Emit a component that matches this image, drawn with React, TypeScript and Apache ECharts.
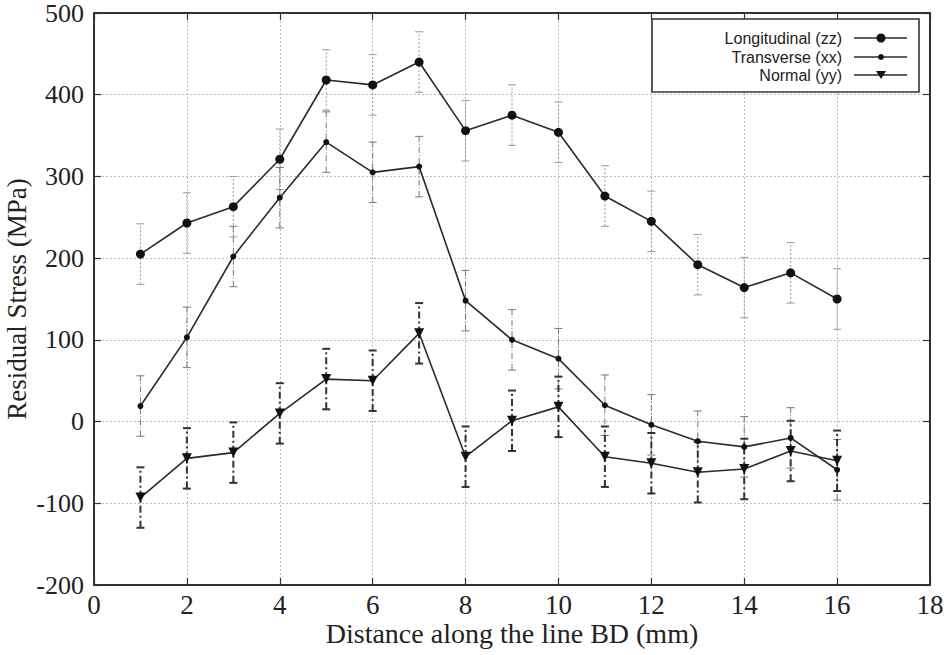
import React, { useEffect, useRef } from "react";
import * as echarts from "echarts";

const positions = [1, 2, 3, 4, 5, 6, 7, 8, 9, 10, 11, 12, 13, 14, 15, 16];
const longitudinal = [205, 243, 263, 321, 418, 412, 440, 356, 375, 354, 276, 245, 192, 164, 182, 150];
const transverse = [19, 103, 202, 274, 342, 305, 312, 148, 100, 77, 20, -4, -24, -31, -20, -59];
const normal = [-93, -45, -38, 10, 52, 50, 108, -43, 1, 18, -43, -51, -62, -58, -36, -48];
const longErr = [37, 37, 37, 37, 37, 37, 37, 37, 37, 37, 37, 37, 37, 37, 37, 37];
const transErr = [37, 37, 37, 37, 37, 37, 37, 37, 37, 37, 37, 37, 37, 37, 37, 37];
const normErr = [37, 37, 37, 37, 37, 37, 37, 37, 37, 37, 37, 37, 37, 37, 37, 37];
const legendNames = ["Longitudinal (zz)", "Transverse (xx)", "Normal (yy)"];

const SERIF = "'Liberation Serif', 'DejaVu Serif', serif";
const SANS = "'Liberation Sans', Arial, sans-serif";

function errSeries(vals: number[], errs: number[], color: string, width: number, dash: number[]) {
  return {
    type: "custom",
    z: 1,
    silent: true,
    data: positions.map((x, i) => [x, vals[i] - errs[i], vals[i] + errs[i]]),
    renderItem: (params: any, api: any) => {
      const x = api.value(0);
      const lo = api.coord([x, api.value(1)]);
      const hi = api.coord([x, api.value(2)]);
      const cw = 4;
      const style = { stroke: color, lineWidth: width, lineDash: dash, fill: null };
      const capStyle = { stroke: color, lineWidth: width, fill: null };
      return {
        type: "group",
        children: [
          { type: "line", shape: { x1: lo[0], y1: lo[1], x2: hi[0], y2: hi[1] }, style },
          { type: "line", shape: { x1: lo[0] - cw, y1: lo[1], x2: lo[0] + cw, y2: lo[1] }, style: capStyle },
          { type: "line", shape: { x1: hi[0] - cw, y1: hi[1], x2: hi[0] + cw, y2: hi[1] }, style: capStyle },
        ],
      };
    },
  };
}

function lineSeries(name: string, vals: number[], symbol: string, size: number, rotate = 0) {
  return {
    name,
    type: "line",
    z: 3,
    data: positions.map((x, i) => [x, vals[i]]),
    symbol,
    symbolSize: size,
    symbolRotate: rotate,
    showAllSymbol: true,
    lineStyle: { color: "#2a2a2a", width: 1.6 },
    itemStyle: { color: "#111" },
  };
}

export default function App() {
  const ref = useRef<HTMLDivElement>(null);
  useEffect(() => {
    if (!ref.current) return;
    const chart = echarts.init(ref.current, undefined, { renderer: "svg" });
    const axisLine = { show: true, onZero: false, lineStyle: { color: "#333", width: 2 } };
    const tick = { show: true, inside: true, length: 7, lineStyle: { color: "#333", width: 1.2 } };
    const split = { show: true, lineStyle: { color: "#bbb", type: [2, 2], width: 1 } };
    const legendY = [38, 57, 75];
    const legendGraphics: any[] = [
      {
        type: "rect",
        shape: { x: 652, y: 19, width: 267, height: 73 },
        style: { fill: "#fff", stroke: "#333", lineWidth: 1.6 },
        z: 10,
      },
    ];
    legendNames.forEach((n, i) => {
      legendGraphics.push({
        type: "text",
        x: 842,
        y: legendY[i],
        z: 11,
        style: { text: n, font: `16px ${SANS}`, fill: "#222", align: "right", verticalAlign: "middle" },
      });
      legendGraphics.push({
        type: "line",
        z: 11,
        shape: { x1: 854, y1: legendY[i], x2: 907, y2: legendY[i] },
        style: { stroke: "#2a2a2a", lineWidth: 1.6 },
      });
    });
    legendGraphics.push({ type: "circle", z: 12, shape: { cx: 881, cy: legendY[0], r: 4.5 }, style: { fill: "#111" } });
    legendGraphics.push({ type: "circle", z: 12, shape: { cx: 881, cy: legendY[1], r: 3 }, style: { fill: "#111" } });
    legendGraphics.push({
      type: "polygon",
      z: 12,
      shape: { points: [[876, legendY[2] - 4], [886, legendY[2] - 4], [881, legendY[2] + 4]] },
      style: { fill: "#111" },
    });

    chart.setOption({
      animation: false,
      backgroundColor: "#fff",
      grid: { left: 94, right: 14, top: 13, bottom: 70, containLabel: false, outerBoundsMode: "none" },
      xAxis: [
        {
          type: "value",
          min: 0,
          max: 18,
          interval: 2,
          name: "Distance along the line BD (mm)",
          nameLocation: "middle",
          nameGap: 34,
          nameMoveOverlap: false,
          nameTextStyle: { fontFamily: SERIF, fontSize: 28, color: "#222" },
          axisLine,
          axisTick: tick,
          splitLine: split,
          axisLabel: { fontFamily: SERIF, fontSize: 27, color: "#222", margin: 6, showMaxLabel: true, hideOverlap: false },
        },
        {
          type: "value",
          position: "top",
          min: 0,
          max: 18,
          interval: 2,
          axisLine,
          axisTick: tick,
          splitLine: { show: false },
          axisLabel: { show: false },
        },
      ],
      yAxis: [
        {
          type: "value",
          min: -200,
          max: 500,
          interval: 100,
          name: "Residual Stress (MPa)",
          nameLocation: "middle",
          nameGap: 64,
          nameMoveOverlap: false,
          nameTextStyle: { fontFamily: SERIF, fontSize: 27, color: "#222" },
          axisLine,
          axisTick: tick,
          splitLine: split,
          axisLabel: { fontFamily: SERIF, fontSize: 26, lineHeight: 24, color: "#222", margin: 10 },
        },
        {
          type: "value",
          position: "right",
          min: -200,
          max: 500,
          interval: 100,
          axisLine,
          axisTick: tick,
          splitLine: { show: false },
          axisLabel: { show: false },
        },
      ],
      series: [
        errSeries(longitudinal, longErr, "#999", 1, [2, 2]),
        errSeries(transverse, transErr, "#777", 1, [6, 2, 1, 2]),
        errSeries(normal, normErr, "#333", 2, [7, 3, 2, 3]),
        lineSeries(legendNames[0], longitudinal, "circle", 9),
        lineSeries(legendNames[1], transverse, "circle", 6),
        lineSeries(legendNames[2], normal, "triangle", 10, 180),
      ],
      graphic: legendGraphics,
    });
    return () => chart.dispose();
  }, []);
  return (
    <div
      ref={ref}
      style={{ position: "fixed", left: 0, top: 0, width: 944, height: 655, background: "#fff" }}
    />
  );
}
